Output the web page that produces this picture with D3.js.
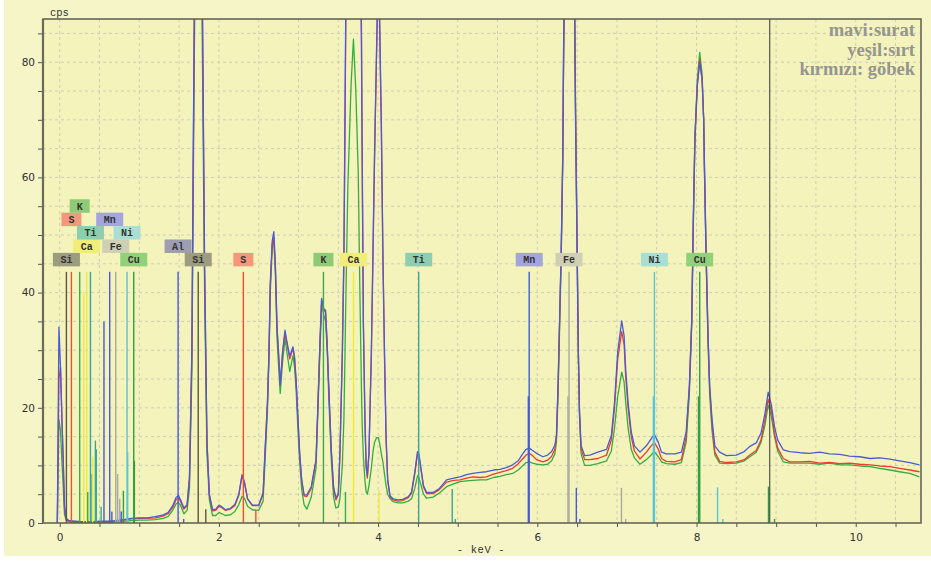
<!DOCTYPE html>
<html>
<head>
<meta charset="utf-8">
<script src="https://cdn.jsdelivr.net/npm/d3@7"></script>
<style>
  html, body { margin: 0; padding: 0; background: #fff; }
  svg { display: block; }
</style>
</head>
<body>
<div id="chart"></div>
<script>
// ── Spectrum data (energy in keV, counts in cps) ───────────────────────────
const keV = [
  -0.03, -0.01, 0.01, 0.03, 0.045, 0.06, 0.08, 0.12, 0.2, 0.3,
  0.4, 0.5, 0.6, 0.7, 0.8, 0.9, 1.0, 1.1, 1.2, 1.3,
  1.36, 1.42, 1.46, 1.49, 1.52, 1.56, 1.60, 1.63, 1.66, 1.69,
  1.72, 1.74, 1.76, 1.79, 1.82, 1.85, 1.88, 1.92, 1.96, 2.00,
  2.04, 2.08, 2.14, 2.20, 2.25, 2.29, 2.32, 2.36, 2.42, 2.50,
  2.555, 2.58, 2.61, 2.63, 2.645, 2.67, 2.69, 2.71, 2.73, 2.755,
  2.77, 2.80, 2.83, 2.85, 2.89, 2.93, 2.95, 2.97, 2.99, 3.015,
  3.04, 3.07, 3.105, 3.16, 3.22, 3.245, 3.27, 3.29, 3.32, 3.34,
  3.36, 3.38, 3.41, 3.44, 3.47, 3.50, 3.52, 3.55, 3.57, 3.58,
  3.59, 3.62, 3.66, 3.69, 3.72, 3.75, 3.77, 3.79, 3.80, 3.815,
  3.835, 3.85, 3.865, 3.885, 3.915, 3.935, 3.955, 3.98, 4.005, 4.03,
  4.04, 4.06, 4.08, 4.10, 4.12, 4.15, 4.19, 4.25, 4.31, 4.38,
  4.42, 4.46, 4.495, 4.51, 4.54, 4.57, 4.61, 4.69, 4.77, 4.86,
  4.95, 5.03, 5.11, 5.19, 5.28, 5.36, 5.45, 5.53, 5.61, 5.69,
  5.76, 5.82, 5.86, 5.90, 5.94, 5.99, 6.07, 6.13, 6.18, 6.22,
  6.24, 6.26, 6.28, 6.30, 6.32, 6.33, 6.36, 6.40, 6.44, 6.47,
  6.48, 6.50, 6.515, 6.53, 6.55, 6.595, 6.66, 6.76, 6.87, 6.93,
  6.97, 7.01, 7.06, 7.09, 7.11, 7.14, 7.18, 7.22, 7.29, 7.37,
  7.43, 7.47, 7.52, 7.56, 7.62, 7.73, 7.81, 7.87, 7.91, 7.94,
  7.96, 7.98, 8.01, 8.04, 8.07, 8.09, 8.10, 8.12, 8.145, 8.165,
  8.195, 8.23, 8.29, 8.375, 8.50, 8.60, 8.67, 8.75, 8.81, 8.86,
  8.90, 8.94, 8.98, 9.02, 9.09, 9.17, 9.30, 9.42, 9.55, 9.67,
  9.80, 9.92, 10.05, 10.18, 10.30, 10.43, 10.55, 10.68, 10.80
];

// mavi: surat
const surat = [
  0, 34, 27, 17, 10.6, 3, 0.8, 0.4, 0.3, 0.2,
  0.2, 0.3, 0.3, 0.4, 0.6, 0.8, 0.9, 0.9, 1.1, 1.4,
  1.8, 3.0, 4.4, 4.8, 4.0, 2.6, 3.2, 8, 30, 88,
  130, 146, 135, 95, 45, 14, 5, 2.3, 2.4, 3.1,
  2.8, 2.3, 2.5, 3.2, 5.0, 8.2, 7.0, 4.2, 3.1, 3.1,
  5.2, 12.7, 21, 30, 41.7, 49, 50.6, 44.5, 34, 28,
  24, 29.7, 33.5, 31.8, 28.9, 30.6, 28.9, 24.8, 19, 12,
  7.5, 4.9, 4.9, 6.3, 11, 21, 31.8, 39, 37, 37,
  31, 23.6, 13, 6.3, 4.3, 5.2, 12.3, 29.7, 47, 64,
  82, 140, 230, 275, 240, 160, 110, 87, 64, 35,
  18, 10, 8.2, 12.3, 29.7, 47, 64, 82, 100, 78,
  70, 47, 29.7, 15, 7.6, 4.7, 4.2, 4.0, 4.1, 4.6,
  5.4, 8.8, 12.4, 12.2, 9.4, 6.5, 5.3, 5.3, 6.0, 7.5,
  7.8, 8.0, 8.4, 8.6, 8.8, 8.9, 9.2, 9.3, 9.6, 10.1,
  10.8, 12.1, 12.8, 13.0, 12.6, 12.1, 11.5, 11.8, 12.4, 13.5,
  15.2, 23.8, 35.4, 47, 64, 82, 115, 140, 115, 87,
  70, 47, 29.7, 19.3, 13.4, 11.7, 11.8, 12.3, 12.8, 15.2,
  21, 29.7, 35.1, 32.5, 26.7, 21, 15.8, 13.4, 12.3, 13.4,
  14.6, 15.4, 14, 12.3, 12.0, 12.0, 12.3, 15.8, 23.8, 35.4,
  52.8, 67, 76, 80, 77, 70, 61.5, 47, 32.5, 23.8,
  18, 13.4, 12.3, 11.7, 11.8, 12.4, 13.3, 13.9, 15.6, 19,
  22.7, 20.5, 16.7, 14.4, 12.7, 12.4, 12.2, 12.1, 12.3, 12.0,
  11.9, 11.6, 11.5, 11.2, 11.3, 11.1, 10.8, 10.5, 10.1
];

// kırmızı: göbek
const gobek = [
  0, 25, 27, 17, 10, 2.5, 0.7, 0.3, 0.2, 0.2,
  0.2, 0.2, 0.2, 0.3, 0.5, 0.7, 0.8, 0.8, 0.9, 1.2,
  1.6, 2.7, 4.0, 4.4, 3.7, 2.4, 3.0, 7.5, 29, 86,
  128, 144, 133, 93, 44, 14, 4.8, 2.1, 2.2, 2.9,
  2.6, 2.2, 2.4, 3.0, 4.8, 8.4, 7.2, 4.2, 3.0, 3.0,
  5.0, 12.5, 21, 30, 41, 48.5, 49.5, 44, 34, 28,
  24, 29.5, 33, 31.5, 28.5, 30.3, 28.5, 24.5, 18.8, 11.8,
  7.3, 4.7, 4.6, 6.0, 10.8, 21, 31.5, 38.5, 37, 36.5,
  31, 23.5, 13, 6.0, 4.0, 4.9, 11.5, 28.5, 45, 62,
  80, 135, 225, 270, 235, 155, 105, 84, 62, 34,
  17, 9.5, 7.8, 12, 29, 46, 63, 81, 98, 77,
  69, 46, 29, 14.5, 7.4, 4.5, 4.0, 3.8, 3.9, 4.4,
  5.2, 8.5, 12.0, 11.8, 9.1, 6.2, 5.1, 5.1, 5.8, 7.1,
  7.4, 7.5, 7.8, 8.0, 7.9, 8.0, 8.5, 8.8, 9.1, 9.5,
  10.3, 11.2, 11.8, 12.1, 11.7, 11.0, 10.6, 10.9, 11.6, 12.8,
  14.8, 23, 35, 47, 64, 82, 115, 140, 116, 88,
  72, 48, 30, 19, 12.8, 11.0, 11.0, 11.2, 11.8, 14.4,
  20, 28.5, 33.2, 31, 25.5, 20, 15, 12.5, 11.1, 12.3,
  13.4, 14.0, 12.8, 11.2, 10.7, 10.6, 11.0, 15, 23.5, 35,
  52.5, 66.5, 76, 80.5, 77, 70, 61.5, 47, 32, 23.5,
  17, 12.3, 10.7, 10.5, 10.6, 11.0, 11.8, 12.6, 14.4, 18,
  21.5, 19.5, 15.5, 13, 11.2, 10.6, 10.6, 10.7, 10.4, 10.5,
  10.3, 10.4, 10.2, 10.1, 9.9, 9.8, 9.5, 9.2, 8.9
];

// yeşil: sırt
const sirt = [
  0, 18, 16, 10, 6, 1.5, 0.5, 0.2, 0.1, 0.1,
  0.1, 0.1, 0.1, 0.2, 0.3, 0.4, 0.5, 0.5, 0.6, 0.8,
  1.1, 2.2, 3.3, 3.6, 3.0, 1.6, 2.2, 6, 26, 80,
  120, 135, 125, 85, 40, 12, 4, 1.3, 1.3, 1.8,
  1.6, 1.3, 1.4, 2.0, 3.2, 4.6, 4.3, 2.9, 2.3, 2.2,
  3.8, 11, 19.5, 29, 40, 48, 49, 43, 32, 26,
  22.5, 28, 32, 30, 26.3, 29, 27, 23, 17, 10.5,
  5.8, 3.2, 2.4, 4.5, 9.5, 20, 30, 38, 36, 35,
  30, 22, 11.5, 4.5, 2.6, 2.8, 4.2, 10, 18, 26,
  35, 58.6, 76, 84, 75, 61, 41, 23.8, 17, 11.5,
  7.2, 5.4, 5.0, 6.5, 9.5, 12.3, 14, 14.8, 14.8, 13,
  12, 10.6, 8.5, 6.5, 5.0, 4.2, 3.7, 3.5, 3.5, 3.8,
  4.2, 6.0, 8.2, 8.0, 6.5, 5.0, 4.3, 4.5, 5.2, 6.3,
  6.8, 7.2, 7.3, 7.4, 7.5, 7.5, 7.9, 8.1, 8.4, 8.6,
  9.2, 10.0, 10.5, 10.6, 10.4, 10.2, 10.1, 10.2, 10.8, 12,
  14, 22, 34, 46, 63, 80, 112, 138, 115, 88,
  72, 48, 30, 18.5, 12, 10.0, 10.0, 10.3, 10.8, 12.5,
  16.5, 22, 26.2, 24.5, 21, 16.5, 12.8, 11.3, 10.2, 11.0,
  11.8, 12.4, 11.5, 10.6, 10.3, 10.2, 10.5, 14, 22.5, 34.5,
  52, 67, 77, 81.7, 78, 70, 61, 46, 31, 22.5,
  16, 11.8, 10.4, 10.3, 10.4, 10.8, 11.5, 12.3, 14.0, 17,
  20.5, 18.5, 15, 12.5, 10.6, 10.4, 10.4, 10.4, 10.2, 10.4,
  10.1, 10.1, 9.9, 9.8, 9.5, 9.2, 8.9, 8.6, 8.0
];

// ── Element line markers ───────────────────────────────────────────────────
const markerEl = [
  "Si", "S", "K", "Ca", "Ti", "Mn", "Fe", "Ni", "Cu",
  "Al", "Si", "S", "K", "Ca", "Ti", "Mn", "Fe", "Ni", "Cu",
  "Ca", "K", "Ti", "Ca", "Ti", "Ti", "Ti", "Mn", "Mn", "Fe", "Fe", "Cu", "Ni", "Cu", "Mn",
  "Al", "Si", "S", "K", "Ca", "Ti", "Ti", "Mn", "Mn", "Fe", "Fe", "Ni", "Ni", "Cu", "Cu",
  "Mn", "Fe", "Ni", "Cu"
];
const markerKeV = [
  0.084, 0.147, 0.251, 0.339, 0.386, 0.628, 0.704, 0.846, 0.930,
  1.487, 1.740, 2.307, 3.313, 3.691, 4.510, 5.898, 6.398, 7.471, 8.040,
  0.302, 0.352, 0.406, 0.415, 0.448, 0.460, 0.520, 0.556, 0.655, 0.728, 0.754, 0.800, 0.854, 0.938, 0.773,
  1.557, 1.835, 2.464, 3.590, 4.012, 4.931, 4.970, 6.490, 6.535, 7.057, 7.110, 8.264, 8.330, 8.904, 8.980,
  5.887, 6.385, 7.458, 8.025
];
const markerTop = [
  43.6, 43.6, 43.6, 43.6, 43.6, 43.6, 43.6, 43.6, 43.6,
  43.6, 43.6, 43.6, 43.6, 43.6, 43.6, 43.6, 43.6, 43.6, 43.6,
  40.1, 5.4, 8.5, 11.5, 14.3, 12.8, 2.8, 35, 2, 8.5, 4.2, 5.6, 12.3, 10.8, 2,
  0.7, 2.4, 2.3, 5.4, 5.6, 5.9, 0.7, 6.1, 0.7, 6.1, 0.7, 6.2, 0.7, 6.3, 0.7,
  22, 22, 22, 22
];

// ── Element labels (stack level 0 = lowest row) ────────────────────────────
const labelEl    = ["Si", "S", "K", "Ca", "Ti", "Mn", "Fe", "Ni", "Cu",
                    "Al", "Si", "S", "K", "Ca", "Ti", "Mn", "Fe", "Ni", "Cu"];
const labelKeV   = [0.084, 0.147, 0.251, 0.339, 0.386, 0.628, 0.704, 0.846, 0.930,
                    1.487, 1.740, 2.307, 3.313, 3.691, 4.510, 5.898, 6.398, 7.471, 8.040];
const labelLevel = [0, 3, 4, 1, 2, 3, 1, 2, 0,
                    1, 0, 0, 0, 0, 0, 0, 0, 0, 0];

const cursorKeV = 8.92;

const legendLines = ["mavi:surat", "yeşil:sırt", "kırmızı: göbek"];
const xTickLabels = [0, 2, 4, 6, 8, 10];
const yTickLabels = [0, 20, 40, 60, 80];

// ── Colours ────────────────────────────────────────────────────────────────
const EL = {
  Si: { box: "#9c9c7e", line: "#5a5a44" },
  S:  { box: "#f4977a", line: "#f0502e" },
  K:  { box: "#8fcb76", line: "#3aaa4a" },
  Ca: { box: "#f1ed7a", line: "#efea3a" },
  Ti: { box: "#8fcdb1", line: "#3aa898" },
  Mn: { box: "#a4a4df", line: "#4a5ad0" },
  Fe: { box: "#cfcfb4", line: "#a9a9a0" },
  Ni: { box: "#a9dfd3", line: "#52c6de" },
  Cu: { box: "#93d07a", line: "#2f9f40" },
  Al: { box: "#9e9eb0", line: "#4a5ad0" },
};
const SERIES = [
  { values: sirt,  color: "#34ad42" },
  { values: gobek, color: "#f03c2a" },
  { values: surat, color: "#4b5bd6" },
];

// ── Dimensions ─────────────────────────────────────────────────────────────
const W = 931, H = 561;
const margin = { top: 19, right: 10, bottom: 38, left: 43 };

const svg = d3.select("#chart").append("svg")
  .attr("width", W).attr("height", H);

svg.append("rect")
  .attr("x", 4).attr("y", 0).attr("width", W - 4).attr("height", 556)
  .attr("fill", "#f5f5c7");

const x = d3.scaleLinear().domain([-0.21, 10.82]).range([margin.left, W - margin.right]);
const y = d3.scaleLinear().domain([0, 87.5]).range([H - margin.bottom, margin.top]);

const plotW = x.range()[1] - x.range()[0];
const plotH = y.range()[0] - y.range()[1];

svg.append("rect")
  .attr("x", margin.left).attr("y", margin.top)
  .attr("width", plotW).attr("height", plotH)
  .attr("fill", "#f3f3bb");

svg.append("clipPath").attr("id", "plot-clip")
  .append("rect")
  .attr("x", margin.left).attr("y", margin.top)
  .attr("width", plotW).attr("height", plotH);

// ── Grid ───────────────────────────────────────────────────────────────────
const xGrid = d3.range(0, 10.81, 0.5);
const yGrid = d3.range(5, 87, 5);

const grid = svg.append("g").attr("stroke", "#cdcdb6").attr("stroke-dasharray", "3,3");
grid.selectAll(".vg").data(xGrid).join("line")
  .attr("x1", d => x(d)).attr("x2", d => x(d))
  .attr("y1", margin.top).attr("y2", y(0));
grid.selectAll(".hg").data(yGrid).join("line")
  .attr("x1", margin.left).attr("x2", x.range()[1])
  .attr("y1", d => y(d)).attr("y2", d => y(d));

// ── Spectra ────────────────────────────────────────────────────────────────
const plot = svg.append("g").attr("clip-path", "url(#plot-clip)");

const line = d3.line()
  .x((d, i) => x(keV[i]))
  .y(d => y(d));

SERIES.forEach(s => {
  plot.append("path")
    .datum(s.values)
    .attr("fill", "none")
    .attr("stroke", s.color)
    .attr("stroke-width", 1.3)
    .attr("stroke-linejoin", "round")
    .attr("d", line);
});

// ── Markers ────────────────────────────────────────────────────────────────
plot.selectAll(".marker").data(markerKeV).join("line")
  .attr("class", "marker")
  .attr("x1", d => x(d)).attr("x2", d => x(d))
  .attr("y1", y(0))
  .attr("y2", (d, i) => y(markerTop[i]))
  .attr("stroke", (d, i) => EL[markerEl[i]].line)
  .attr("stroke-width", 1.4);

plot.append("line")
  .attr("x1", x(cursorKeV)).attr("x2", x(cursorKeV))
  .attr("y1", margin.top).attr("y2", y(0))
  .attr("stroke", "#333").attr("stroke-width", 1);

// ── Labels ─────────────────────────────────────────────────────────────────
const boxH = 13.5, rowStep = 13.4;
const labelBase = y(43.6) - 5.5;

const lab = svg.append("g").selectAll("g").data(labelEl).join("g")
  .attr("transform", (d, i) =>
    `translate(${x(labelKeV[i])},${labelBase - rowStep * labelLevel[i] - boxH})`);

lab.append("rect")
  .attr("x", d => -(13 + 7 * d.length) / 2)
  .attr("width", d => 13 + 7 * d.length)
  .attr("height", boxH)
  .attr("fill", d => EL[d].box);

lab.append("text")
  .attr("y", boxH / 2)
  .attr("dy", "0.35em")
  .attr("text-anchor", "middle")
  .attr("font-family", "'Liberation Mono', 'DejaVu Sans Mono', monospace")
  .attr("font-size", 10)
  .attr("font-weight", "bold")
  .attr("fill", "#333")
  .text(d => d);

// ── Axes ───────────────────────────────────────────────────────────────────
const xAxis = d3.axisBottom(x)
  .tickValues(xGrid)
  .tickSize(4)
  .tickFormat(d => xTickLabels.includes(d) ? d : "");
const yAxis = d3.axisLeft(y)
  .tickValues(d3.range(0, 86, 5))
  .tickSize(5)
  .tickFormat(d => yTickLabels.includes(d) ? d : "");

const gx = svg.append("g").attr("transform", `translate(0,${y(0)})`).call(xAxis);
const gy = svg.append("g").attr("transform", `translate(${margin.left},0)`).call(yAxis);

[gx, gy].forEach(g => {
  g.select(".domain").remove();
  g.selectAll(".tick line").attr("stroke", "#555");
  g.selectAll(".tick text")
    .attr("font-family", "'DejaVu Sans', Verdana, sans-serif")
    .attr("font-size", 10.5)
    .attr("fill", "#333");
});
gx.selectAll(".tick text").attr("dy", "1.05em");

// Frame
svg.append("rect")
  .attr("x", margin.left).attr("y", margin.top)
  .attr("width", plotW).attr("height", plotH)
  .attr("fill", "none").attr("stroke", "#5c5c50").attr("stroke-width", 1.5);
svg.append("line")
  .attr("x1", margin.left).attr("x2", margin.left)
  .attr("y1", margin.top).attr("y2", y(0))
  .attr("stroke", "#6a6a5c").attr("stroke-width", 2.2);

// Axis titles
svg.append("text")
  .attr("x", 50).attr("y", 16)
  .attr("font-family", "'Liberation Mono', 'DejaVu Sans Mono', monospace")
  .attr("font-size", 10.5).attr("fill", "#333")
  .text("cps");
svg.append("text")
  .attr("x", 481).attr("y", 553)
  .attr("text-anchor", "middle")
  .attr("font-family", "'Liberation Mono', 'DejaVu Sans Mono', monospace")
  .attr("font-size", 10.5).attr("fill", "#333")
  .attr("letter-spacing", 0.6)
  .attr("xml:space", "preserve")
  .text("- keV -");

// Legend
svg.append("g").selectAll("text").data(legendLines).join("text")
  .attr("x", 915)
  .attr("y", (d, i) => 36 + i * 19.5)
  .attr("text-anchor", "end")
  .attr("font-family", "'Liberation Serif', 'DejaVu Serif', serif")
  .attr("font-weight", "bold")
  .attr("font-size", 18.5)
  .attr("fill", "#959592")
  .text(d => d);
</script>
</body>
</html>
